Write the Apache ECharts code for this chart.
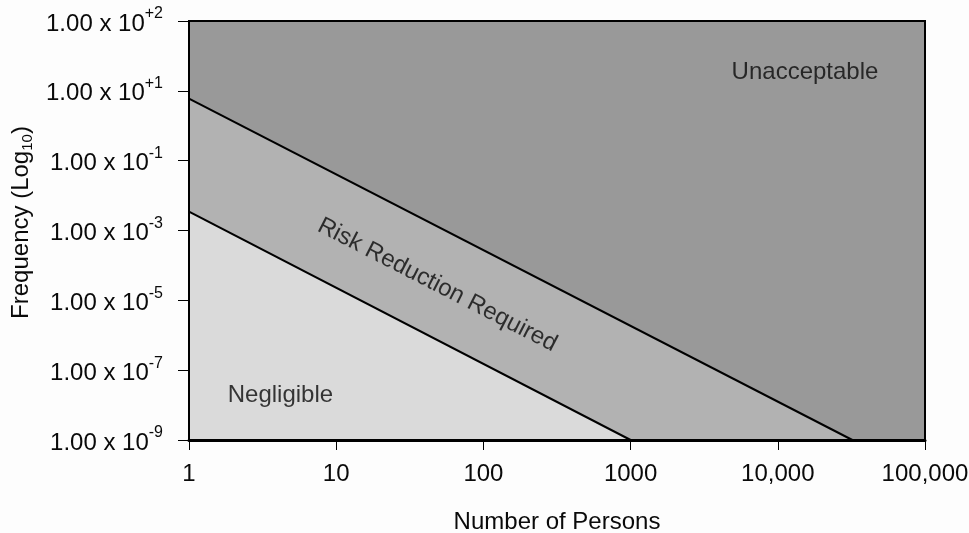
<!DOCTYPE html>
<html>
<head>
<meta charset="utf-8">
<script src="https://cdn.jsdelivr.net/npm/echarts@6/dist/echarts.min.js"></script>
<style>html,body{margin:0;padding:0;background:#fff;}#c{width:969px;height:533px;}</style>
</head>
<body>
<div id="c"></div>
<script>
// Y axis tick labels (evenly spaced in the reference): exponents of 1.00 x 10^n
var yTickExponents = ['-9', '-7', '-5', '-3', '-1', '+1', '+2'];
// X axis tick labels (log scale, decades)
var xTickLabels = ['1', '10', '100', '1000', '10,000', '100,000'];
// Boundary lines: [persons, position on the frequency scale (tick index units)]
var upperBoundary = [[1, 4.89], [32100, 0]];
var lowerBoundary = [[1, 3.27], [1000, 0]];
// Region labels: [persons, tick index units, text]
var regionLabels = [
  [15300, 5.26, 'Unacceptable'],
  [48.6, 2.22, 'Risk Reduction Required'],
  [4.18, 0.64, 'Negligible']
];

var FONT = 'Liberation Sans, Arial, sans-serif';
var TXT = '#0a0a0a';
var chart = echarts.init(document.getElementById('c'));
chart.setOption({
  backgroundColor: '#fdfdfd',
  animation: false,
  grid: {
    left: 189, right: 44, top: 21, bottom: 93,
    containLabel: false, outerBoundsMode: 'none',
    show: true, backgroundColor: '#999999', borderColor: '#000', borderWidth: 2
  },
  xAxis: {
    type: 'log', logBase: 10, min: 1, max: 100000, z: 10,
    name: 'Number of Persons', nameLocation: 'middle', nameGap: 70,
    nameTextStyle: { fontFamily: FONT, fontSize: 24, color: TXT },
    axisLine: { show: true, lineStyle: { color: '#000', width: 3 } },
    axisTick: { show: true, length: 10, lineStyle: { color: '#000', width: 1 } },
    minorTick: { show: false },
    splitLine: { show: false },
    axisLabel: {
      margin: 22, fontFamily: FONT, fontSize: 24, color: TXT,
      formatter: function (v) { return xTickLabels[Math.round(Math.log10(v))]; }
    }
  },
  yAxis: {
    type: 'value', min: 0, max: 6, interval: 1, z: 10,
    name: '{a|Frequency (Log}{sub|10}{a|)}', nameLocation: 'middle', nameGap: 146,
    nameTextStyle: {
      padding: [0, 0, 0, 16],
      rich: {
        a: { fontFamily: FONT, fontSize: 24, color: TXT, lineHeight: 28 },
        sub: { fontFamily: FONT, fontSize: 15, color: TXT, verticalAlign: 'bottom', lineHeight: 24 }
      }
    },
    axisLine: { show: true, lineStyle: { color: '#000', width: 2 } },
    axisTick: { show: true, length: 11, lineStyle: { color: '#000', width: 1 } },
    splitLine: { show: false },
    axisLabel: {
      margin: 26,
      formatter: function (v) {
        var i = Math.round(v);
        return '{b|1.00 x 10}{s|' + yTickExponents[i] + '}';
      },
      rich: {
        b: { fontFamily: FONT, fontSize: 24, color: TXT, lineHeight: 30, verticalAlign: 'bottom' },
        s: { fontFamily: FONT, fontSize: 16, color: TXT, lineHeight: 30, verticalAlign: 'top' }
      }
    }
  },
  series: [
    {
      type: 'line', data: upperBoundary, symbol: 'none',
      lineStyle: { color: '#000', width: 2 },
      areaStyle: { color: '#b2b2b2', opacity: 1 }, z: 2
    },
    {
      type: 'line', data: lowerBoundary, symbol: 'none',
      lineStyle: { color: '#000', width: 2 },
      areaStyle: { color: '#dadada', opacity: 1 }, z: 3
    },
    {
      type: 'scatter', symbolSize: 0, z: 5,
      data: regionLabels.map(function (d, i) {
        return {
          value: [d[0], d[1]], name: d[2],
          label: i === 1 ? { rotate: -27.2 } : {}
        };
      }),
      label: {
        show: true, position: 'inside', formatter: '{b}',
        fontFamily: FONT, fontSize: 24, color: TXT, textBorderWidth: 0
      }
    }
  ]
});
</script>
</body>
</html>
